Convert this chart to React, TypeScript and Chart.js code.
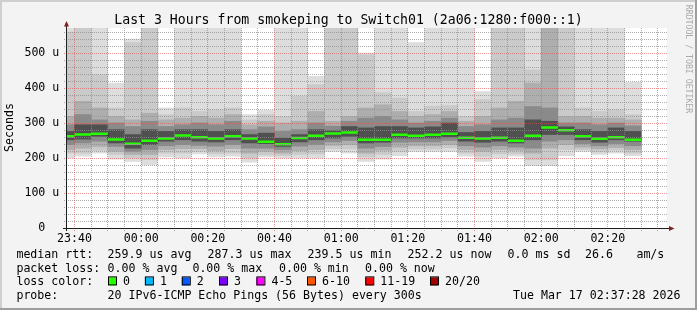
import { useEffect, useRef } from "react";
import { Chart, registerables } from "chart.js";

Chart.register(...registerables);

const MONO = '"DejaVu Sans Mono", "Liberation Mono", monospace';

const titleText = "Last 3 Hours from smokeping to Switch01 (2a06:1280:f000::1)";
const yAxisTitle = "Seconds";
const watermark = "RRDTOOL / TOBI OETIKER";

// x axis: minutes after 23:40
const xTickValues = [0, 20, 40, 60, 80, 100, 120, 140, 160];
const xTickLabels = ["23:40", "00:00", "00:20", "00:40", "01:00", "01:20", "01:40", "02:00", "02:20"];
const yTickValues = [0, 100, 200, 300, 400, 500];
const yTickNumbers = ["0", "100", "200", "300", "400", "500"];
const yTickUnits = ["", "u", "u", "u", "u", "u"];

// end of each 5-minute step (minutes after 23:40)
const stepEnd = [0, 5, 10, 15, 20, 25, 30, 35, 40, 45, 50, 55, 60, 65, 70, 75, 80, 85, 90, 95, 100, 105, 110, 115, 120, 125, 130, 135, 140, 145, 150, 155, 160, 165, 170];

// median rtt per step (microseconds)
const medianRtt = [262, 267, 269, 253, 241, 249, 256, 264.6, 259, 256, 262, 256, 246.6, 239.5, 257, 263.7, 270, 273, 252, 252, 266.6, 263.7, 266.6, 269, 258, 256, 258, 249, 263.7, 287.3, 279, 262, 255, 259, 252.2];

// smoke bands (sorted ping rtts, outer to inner), microseconds
const smoke1Hi = [600, 600, 600, 414, 540, 600, 343, 600, 600, 600, 600, 324, 336, 600, 600, 433, 600, 600, 500, 600, 600, 530, 600, 600, 600, 390, 600, 600, 600, 600, 600, 600, 600, 600, 416];
const smoke2Hi = [560, 590, 438, 343, 530, 590, 324, 343, 333, 338, 343, 309, 324, 319, 376, 410, 590, 590, 495, 386, 371, 333, 348, 350, 319, 367, 590, 590, 452, 595, 595, 343, 333, 338, 324];
const smoke3Hi = [319, 362, 343, 319, 309, 328, 309, 314, 319, 314, 324, 295, 305, 300, 305, 333, 305, 319, 343, 352, 333, 319, 324, 333, 305, 319, 343, 362, 414, 590, 319, 319, 314, 314, 309];
const smoke4Hi = [295, 324, 309, 300, 290, 305, 290, 295, 300, 295, 305, 281, 289, 276, 281, 300, 291, 305, 314, 319, 309, 300, 305, 314, 290, 295, 309, 314, 347, 343, 300, 300, 295, 300, 292];
const smoke5Hi = [276, 295, 295, 281, 267, 281, 276, 281, 281, 276, 281, 267, 271, 257, 267, 281, 278, 290, 286, 290, 290, 286, 289, 300, 273, 276, 286, 286, 309, 305, 289, 281, 276, 286, 276];
const smoke5Lo = [252, 254, 262, 243, 228, 238, 248, 252, 248, 246, 252, 243, 241, 233, 246, 252, 257, 262, 243, 245, 257, 257, 257, 260, 248, 245, 248, 243, 252, 267, 267, 252, 245, 252, 248];
const smoke4Lo = [238, 243, 248, 233, 219, 224, 235, 238, 236, 234, 238, 228, 228, 224, 234, 238, 246, 250, 228, 233, 245, 246, 246, 250, 235, 231, 235, 231, 228, 248, 252, 241, 235, 241, 235];
const smoke3Lo = [224, 228, 233, 219, 210, 210, 224, 227, 227, 221, 227, 214, 219, 214, 221, 224, 236, 238, 214, 222, 231, 235, 235, 238, 224, 219, 224, 222, 214, 228, 238, 231, 226, 230, 224];
const smoke2Lo = [214, 214, 222, 210, 200, 195, 214, 214, 219, 212, 214, 200, 209, 207, 210, 212, 227, 226, 203, 210, 219, 226, 226, 229, 214, 205, 212, 212, 195, 195, 224, 224, 217, 222, 214];
const smoke1Lo = [200, 205, 214, 197, 190, 181, 203, 200, 212, 203, 205, 188, 203, 200, 200, 200, 219, 214, 190, 197, 207, 219, 219, 219, 205, 190, 200, 205, 178, 178, 207, 219, 210, 214, 207];

// legend texts
const rttLabel = "median rtt:";
const rttStats = ["259.9 us avg", "287.3 us max", "239.5 us min", "252.2 us now", "0.0 ms sd", "26.6", "am/s"];
const lossLabel = "packet loss:";
const lossStats = ["0.00 % avg", "0.00 % max", "0.00 % min", "0.00 % now"];
const lossColorLabel = "loss color:";
const lossLabels = ["0", "1", "2", "3", "4-5", "6-10", "11-19", "20/20"];
const lossColors = ["#26ff00", "#00b8ff", "#0059ff", "#7e00ff", "#ff00ff", "#ff5500", "#ff0000", "#a10000"];
const probeLabel = "probe:";
const probeText = "20 IPv6-ICMP Echo Pings (56 Bytes) every 300s";
const dateText = "Tue Mar 17 02:37:28 2026";

// layout (pixels)
const ROW_Y = [257.8, 271.6, 285.4, 299.2];
const COL0_X = 16.4;
const RTT_X = [107.6, 207.6, 307.6, 407.6, 507.6, 585, 636.4];
const LOSS_X = [107.6, 192.4, 279, 365];
const BOX_X = [108, 144.9, 181.8, 219, 256.4, 307, 365.3, 430];
const Y_LABEL_RIGHT = 59.3;

const bandStyles = [
  { lo: smoke1Lo, hi: smoke1Hi, color: "#dddddd" },
  { lo: smoke2Lo, hi: smoke2Hi, color: "#cacaca" },
  { lo: smoke3Lo, hi: smoke3Hi, color: "#aeaeae" },
  { lo: smoke4Lo, hi: smoke4Hi, color: "#8a8a8a" },
  { lo: smoke5Lo, hi: smoke5Hi, color: "#505050" },
];

const decor = {
  id: "rrdDecor",
  beforeDraw(chart: any) {
    const { ctx, width, height, chartArea: a } = chart;
    ctx.save();
    ctx.fillStyle = "#f3f3f3";
    ctx.fillRect(0, 0, width, height);
    ctx.fillStyle = "#cfcfcf";
    ctx.fillRect(0, 0, width, 2);
    ctx.fillRect(0, 0, 2, height);
    ctx.fillStyle = "#9e9e9e";
    ctx.fillRect(0, height - 2, width, 2);
    ctx.fillRect(width - 2, 0, 2, height);
    ctx.fillStyle = "#ffffff";
    ctx.fillRect(a.left, a.top, a.right - a.left, a.bottom - a.top);
    ctx.restore();
  },
  afterDatasetsDraw(chart: any) {
    const { ctx, chartArea: a } = chart;
    const xs = chart.scales.x;
    const ys = chart.scales.y;
    ctx.save();
    ctx.lineWidth = 1;
    ctx.setLineDash([1, 1]);
    const minor = "rgba(143,143,143,0.75)";
    const major = "rgba(222,79,79,0.6)";
    for (let v = 20; v < ys.max; v += 20) {
      const y = Math.round(ys.getPixelForValue(v)) + 0.5;
      ctx.strokeStyle = v % 100 === 0 ? major : minor;
      ctx.beginPath();
      ctx.moveTo(a.left - 3, y);
      ctx.lineTo(a.right, y);
      ctx.stroke();
    }
    for (let m = Math.ceil(xs.min / 5) * 5; m <= xs.max; m += 5) {
      const x = Math.floor(xs.getPixelForValue(m)) + 0.5;
      ctx.strokeStyle = m % 20 === 0 ? major : minor;
      ctx.beginPath();
      ctx.moveTo(x, a.top);
      ctx.lineTo(x, a.bottom + 3);
      ctx.stroke();
    }
    ctx.setLineDash([]);
    ctx.strokeStyle = "#1f1f1f";
    ctx.beginPath();
    ctx.moveTo(a.left - 0.5, a.bottom + 3);
    ctx.lineTo(a.left - 0.5, a.top - 4);
    ctx.moveTo(a.left - 4, a.bottom + 0.5);
    ctx.lineTo(a.right + 3, a.bottom + 0.5);
    ctx.stroke();
    ctx.fillStyle = "#7f1f1f";
    ctx.beginPath();
    ctx.moveTo(a.left - 3, a.top - 1.5);
    ctx.lineTo(a.left + 2, a.top - 1.5);
    ctx.lineTo(a.left - 0.5, a.top - 7);
    ctx.closePath();
    ctx.fill();
    ctx.beginPath();
    ctx.moveTo(a.right + 2, a.bottom - 2);
    ctx.lineTo(a.right + 2, a.bottom + 3);
    ctx.lineTo(a.right + 7.5, a.bottom + 0.5);
    ctx.closePath();
    ctx.fill();
    ctx.restore();
  },
  afterDraw(chart: any) {
    const { ctx, width } = chart;
    const ys = chart.scales.y;
    ctx.save();
    ctx.fillStyle = "#000";
    ctx.textBaseline = "alphabetic";
    ctx.font = `13.2px ${MONO}`;
    ctx.textAlign = "center";
    ctx.fillText(titleText, width / 2, 23.8);

    ctx.font = `11.6px ${MONO}`;

    // y tick labels: numbers right-aligned in a column, unit after
    const unitW = ctx.measureText(" u").width;
    ctx.save();
    ctx.textAlign = "right";
    ctx.textBaseline = "middle";
    yTickValues.forEach((v, i) => {
      const y = ys.getPixelForValue(v);
      ctx.fillText(yTickNumbers[i], Y_LABEL_RIGHT - unitW, y);
      if (yTickUnits[i]) ctx.fillText(yTickUnits[i], Y_LABEL_RIGHT, y);
    });
    ctx.restore();

    ctx.save();
    ctx.translate(10, 127.5);
    ctx.rotate(-Math.PI / 2);
    ctx.textBaseline = "middle";
    ctx.fillText(yAxisTitle, 0, 0);
    ctx.restore();

    ctx.save();
    ctx.translate(688, 59);
    ctx.rotate(Math.PI / 2);
    ctx.textBaseline = "middle";
    ctx.fillStyle = "#aaaaaa";
    ctx.font = `8.2px ${MONO}`;
    ctx.fillText(watermark, 0, 0);
    ctx.restore();

    ctx.textAlign = "left";
    ctx.fillText(rttLabel, COL0_X, ROW_Y[0]);
    rttStats.forEach((t, i) => ctx.fillText(t, RTT_X[i], ROW_Y[0]));
    ctx.fillText(lossLabel, COL0_X, ROW_Y[1]);
    lossStats.forEach((t, i) => ctx.fillText(t, LOSS_X[i], ROW_Y[1]));
    ctx.fillText(lossColorLabel, COL0_X, ROW_Y[2]);
    lossLabels.forEach((t, i) => {
      const bx = BOX_X[i];
      ctx.fillStyle = lossColors[i];
      ctx.fillRect(bx, ROW_Y[2] - 8, 8, 8);
      ctx.strokeStyle = "#000";
      ctx.lineWidth = 1;
      ctx.strokeRect(bx + 0.5, ROW_Y[2] - 8.5, 8, 8);
      ctx.fillStyle = "#000";
      ctx.fillText(t, bx + 15, ROW_Y[2]);
    });
    ctx.fillText(probeLabel, COL0_X, ROW_Y[3]);
    ctx.fillText(probeText, RTT_X[0], ROW_Y[3]);
    ctx.textAlign = "right";
    ctx.fillText(dateText, 680.5, ROW_Y[3]);
    ctx.restore();
  },
};

export default function App() {
  const ref = useRef<HTMLCanvasElement | null>(null);
  useEffect(() => {
    document.body.style.margin = "0";
    const canvas = ref.current;
    if (!canvas) return;

    const barSets = bandStyles.map((b, k) => ({
      type: "bar" as const,
      data: stepEnd.map((t, i) => ({ x: t - 2.5, y: [b.lo[i], b.hi[i]] })),
      backgroundColor: b.color,
      borderWidth: 0,
      barPercentage: 1,
      categoryPercentage: 1,
      grouped: false,
      order: 20 - k,
    }));

    const stepLine: any[] = stepEnd.map((t, i) => ({ x: t - 5, y: medianRtt[i] }));
    stepLine.push({ x: stepEnd[stepEnd.length - 1], y: medianRtt[medianRtt.length - 1] });

    const greenSegs: any[] = [];
    stepEnd.forEach((t, i) => {
      greenSegs.push({ x: t - 5, y: medianRtt[i] });
      greenSegs.push({ x: t, y: medianRtt[i] });
      greenSegs.push({ x: t, y: null });
    });

    const chart = new Chart(canvas, {
      type: "bar",
      data: {
        datasets: [
          ...barSets,
          {
            type: "line",
            data: stepLine,
            borderColor: "#202020",
            borderWidth: 1,
            pointRadius: 0,
            stepped: true,
            order: 2,
          } as any,
          {
            type: "line",
            data: greenSegs,
            borderColor: "#26ff00",
            borderWidth: 2.5,
            pointRadius: 0,
            spanGaps: false,
            borderCapStyle: "butt",
            order: 1,
          } as any,
        ],
      },
      options: {
        animation: false,
        responsive: false,
        devicePixelRatio: 1,
        events: [],
        layout: { padding: { left: 7, top: 28, right: 30, bottom: 62 } },
        plugins: {
          legend: { display: false },
          tooltip: { enabled: false },
          title: { display: false },
        },
        scales: {
          x: {
            type: "linear",
            min: -2.25,
            max: 177.75,
            offset: false,
            grid: { display: false },
            border: { display: false },
            afterBuildTicks: (s: any) => {
              s.ticks = xTickValues.map((v) => ({ value: v }));
            },
            afterFit: (s: any) => {
              s.height = 20;
            },
            ticks: {
              autoSkip: false,
              maxRotation: 0,
              padding: -4,
              color: "#000",
              font: { family: MONO, size: 11.6 },
              callback: (_v: any, i: number) => xTickLabels[i],
            },
          },
          y: {
            type: "linear",
            min: 0,
            max: 4000 / 7,
            grid: { display: false },
            border: { display: false },
            afterBuildTicks: (s: any) => {
              s.ticks = yTickValues.map((v) => ({ value: v }));
            },
            afterFit: (s: any) => {
              s.width = 60;
            },
            ticks: { display: false },
          },
        },
      } as any,
      plugins: [decor],
    });
    return () => chart.destroy();
  }, []);

  return <canvas ref={ref} width={697} height={310} style={{ display: "block" }} />;
}
